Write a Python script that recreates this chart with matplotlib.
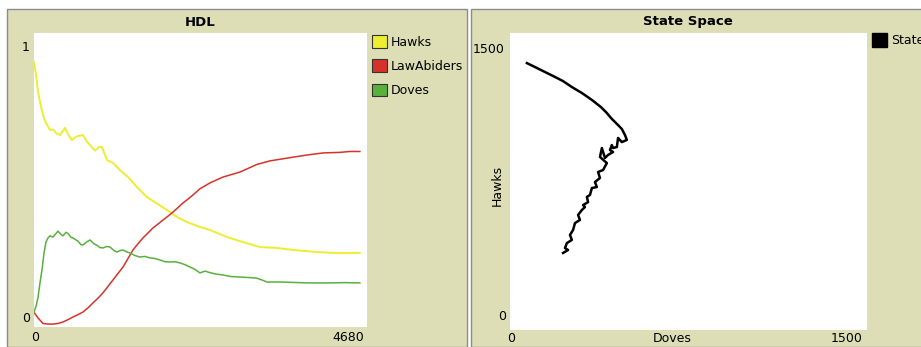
import numpy as np
import matplotlib
matplotlib.use("Agg")
import matplotlib.pyplot as plt
from matplotlib.patches import Rectangle, Patch

# HDL plot: fractions of the population over time
hawks_t = [0, 28, 56, 98, 140, 169, 225, 267, 309, 365, 436, 478, 534, 576, 618, 688, 745, 787,
           857, 913, 955, 1026, 1110, 1208, 1321, 1447, 1588, 1728, 1869, 2009, 2150, 2332, 2473,
           2712, 2937, 3175, 3414, 3639, 3976, 4201, 4580]
hawks = [0.90, 0.86, 0.80, 0.75, 0.71, 0.694, 0.67, 0.672, 0.66, 0.653, 0.677, 0.655, 0.636, 0.645,
         0.65, 0.653, 0.63, 0.619, 0.60, 0.612, 0.612, 0.568, 0.558, 0.534, 0.51, 0.476, 0.442,
         0.42, 0.398, 0.374, 0.357, 0.34, 0.33, 0.306, 0.289, 0.272, 0.269, 0.262, 0.255, 0.252, 0.252]

law_t = [0, 56, 126, 197, 267, 337, 407, 478, 548, 618, 688, 759, 829, 899, 969, 1040, 1110, 1180,
         1251, 1321, 1391, 1461, 1532, 1602, 1672, 1742, 1813, 1883, 1953, 2023, 2094, 2164, 2234,
         2332, 2473, 2656, 2894, 3133, 3316, 3597, 3836, 4061, 4300, 4440, 4580]
law = [0.05, 0.031, 0.012, 0.010, 0.010, 0.012, 0.017, 0.025, 0.034, 0.042, 0.051, 0.065, 0.082,
       0.098, 0.116, 0.138, 0.16, 0.182, 0.204, 0.233, 0.262, 0.283, 0.303, 0.32, 0.337, 0.35, 0.364,
       0.377, 0.391, 0.406, 0.422, 0.435, 0.449, 0.47, 0.49, 0.51, 0.527, 0.553, 0.565, 0.576, 0.585,
       0.592, 0.594, 0.597, 0.597]

doves_t = [0, 28, 56, 84, 112, 140, 169, 197, 225, 267, 309, 337, 379, 407, 450, 478, 520, 548, 590,
           618, 660, 688, 745, 787, 843, 885, 927, 969, 1026, 1068, 1124, 1166, 1208, 1251, 1307,
           1349, 1419, 1489, 1560, 1630, 1700, 1770, 1841, 1911, 1981, 2051, 2122, 2192, 2262, 2332,
           2403, 2473, 2557, 2656, 2754, 2894, 3035, 3133, 3203, 3274, 3456, 3597, 3836, 4160, 4370, 4580]
doves = [0.05, 0.07, 0.10, 0.15, 0.194, 0.25, 0.29, 0.303, 0.31, 0.306, 0.318, 0.326, 0.315, 0.31,
         0.322, 0.318, 0.305, 0.303, 0.296, 0.292, 0.28, 0.279, 0.29, 0.296, 0.283, 0.278, 0.27,
         0.269, 0.274, 0.272, 0.26, 0.255, 0.26, 0.262, 0.255, 0.252, 0.243, 0.238, 0.24, 0.235,
         0.233, 0.228, 0.222, 0.221, 0.222, 0.218, 0.212, 0.204, 0.196, 0.184, 0.19, 0.185, 0.18,
         0.177, 0.172, 0.17, 0.168, 0.166, 0.16, 0.153, 0.153, 0.152, 0.15, 0.15, 0.151, 0.15]

# State space: doves (x) vs hawks (y), counts
state_doves = [71, 105, 147, 189, 223, 260, 302, 344, 382, 403, 428, 454, 470, 483, 491, 470, 454,
               449, 433, 428, 420, 433, 412, 399, 386, 378, 407, 391, 370, 378, 357, 365, 344, 336,
               323, 328, 307, 315, 302, 286, 294, 273, 265, 252, 260, 239, 231, 244, 223]
state_hawks = [1348, 1328, 1303, 1278, 1257, 1227, 1197, 1162, 1126, 1101, 1066, 1035, 1015, 985,
               960, 949, 970, 924, 919, 934, 909, 899, 884, 869, 919, 874, 843, 808, 798, 768, 747,
               722, 717, 682, 672, 646, 631, 621, 606, 581, 556, 540, 505, 480, 455, 439, 414, 404, 389]

PANEL = "#dedeb6"
EDGE = "#8c8c8c"
YELLOW = "#eded31"
RED = "#d73229"
GREEN = "#59b03c"
FS = 9


def main():
    fig = plt.figure(figsize=(9.21, 3.47), dpi=100, facecolor="white")
    W, H = 921, 347

    # olive panel backgrounds (behind the axes)
    for x0, x1 in [(7, 467), (471, 925)]:
        fig.patches.append(Rectangle((x0 / W, 0), (x1 - x0) / W, 1 - 9 / H,
                                     transform=fig.transFigure, facecolor=PANEL,
                                     edgecolor=EDGE, linewidth=1.0, zorder=-5))

    # ---- HDL ----
    ax = fig.add_axes([34 / W, 1 - 327 / H, 333 / W, 294 / H])
    ax.set_facecolor("white")
    ax.plot(hawks_t, hawks, color=YELLOW, lw=1.4)
    ax.plot(law_t, law, color=RED, lw=1.1)
    ax.plot(doves_t, doves, color=GREEN, lw=1.1)
    ax.set_xlim(0, 4680)
    ax.set_ylim(0, 1)
    ax.set_xticks([])
    ax.set_yticks([])
    for s in ax.spines.values():
        s.set_visible(False)
    ax.text(-0.024, 0.949, "1", transform=ax.transAxes, ha="center", va="center", fontsize=FS)
    ax.text(-0.024, 0.03, "0", transform=ax.transAxes, ha="center", va="center", fontsize=FS)
    ax.text(0.003, -0.037, "0", transform=ax.transAxes, ha="center", va="center", fontsize=FS)
    ax.text(0.99, -0.037, "4680", transform=ax.transAxes, ha="right", va="center", fontsize=FS)
    fig.text(200 / W, 1 - 22 / H, "HDL", ha="center", va="center", fontsize=9.5, fontweight="bold")

    handles = [Patch(facecolor=c, edgecolor="#333333", linewidth=0.8) for c in (YELLOW, RED, GREEN)]
    fig.legend(handles, ["Hawks", "LawAbiders", "Doves"], loc="upper left",
               bbox_to_anchor=(372 / W, 1 - 35 / H), frameon=False, fontsize=FS,
               borderpad=0, borderaxespad=0, handlelength=1.2, handleheight=1.2,
               handletextpad=0.3, labelspacing=0.85)

    # ---- State Space ----
    ax2 = fig.add_axes([510 / W, 1 - 330 / H, 357 / W, 297 / H])
    ax2.set_facecolor("white")
    ax2.plot(state_doves, state_hawks, color="black", lw=1.8)
    ax2.set_xlim(0, 1500)
    ax2.set_ylim(0, 1500)
    ax2.set_xticks([])
    ax2.set_yticks([])
    for s in ax2.spines.values():
        s.set_visible(False)
    ax2.text(-0.014, 0.943, "1500", transform=ax2.transAxes, ha="right", va="center", fontsize=FS)
    ax2.text(-0.022, 0.044, "0", transform=ax2.transAxes, ha="center", va="center", fontsize=FS)
    ax2.text(0.003, -0.027, "0", transform=ax2.transAxes, ha="center", va="center", fontsize=FS)
    ax2.text(0.454, -0.027, "Doves", transform=ax2.transAxes, ha="center", va="center", fontsize=FS)
    ax2.text(0.987, -0.027, "1500", transform=ax2.transAxes, ha="right", va="center", fontsize=FS)
    ax2.text(-0.036, 0.488, "Hawks", transform=ax2.transAxes, ha="center", va="center",
             rotation=90, fontsize=FS)
    fig.text(688 / W, 1 - 22 / H, "State Space", ha="center", va="center", fontsize=9.5,
             fontweight="bold")

    fig.legend([Patch(facecolor="black", edgecolor="black")], ["State"], loc="upper left",
               bbox_to_anchor=(872 / W, 1 - 33 / H), frameon=False, fontsize=FS,
               borderpad=0, borderaxespad=0, handlelength=1.2, handleheight=1.4,
               handletextpad=0.3)

    fig.savefig("out.png", dpi=100, facecolor=fig.get_facecolor())


if __name__ == "__main__":
    main()
